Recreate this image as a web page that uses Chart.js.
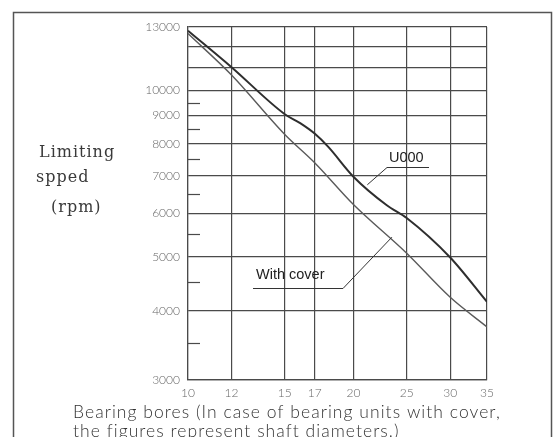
<!DOCTYPE html>
<html>
<head>
<meta charset="utf-8">
<script src="https://cdn.jsdelivr.net/npm/chart.js@4/dist/chart.umd.min.js"></script>
<style>
  html, body { margin: 0; padding: 0; background: #fff; }
  #wrap { width: 555px; height: 437px; position: relative; }
</style>
</head>
<body>
<div id="wrap"><canvas id="speedChart"></canvas></div>
<script>
/* ======================================
        DATA
========================================*/
const boreTicks = [10, 12, 15, 17, 20, 25, 30, 35];
const speedTicks = [3000, 4000, 5000, 6000, 7000, 8000, 9000, 10000, 11000, 12000, 13000];
const speedLabels = [3000, 4000, 5000, 6000, 7000, 8000, 9000, 10000, 13000];
const halfTicks = [3500, 4500, 5500, 6500, 7500, 8500, 9500];

// U000 series
const u000Bores = [10, 12, 15, 16, 17, 18, 20, 23, 25, 30, 35];
const u000Speeds = [12800, 11000, 9050, 8720, 8350, 7900, 6980, 6200, 5880, 4990, 4150];

// with cover series
const coverBores = [10, 12, 15, 17, 20, 25, 30, 35];
const coverSpeeds = [12650, 10650, 8320, 7400, 6220, 5080, 4230, 3740];

const toPoints = (xs, ys) => xs.map((x, i) => ({ x: x, y: ys[i] }));

const gridColor = '#4a4a4a';
const tickFont = { family: 'Lato, "Open Sans", sans-serif', size: 12, weight: '300' };

/* ======================================
        EXTRA DRAWING
========================================*/
const decorations = {
  id: 'decorations',
  beforeDraw(chart) {
    const ctx = chart.ctx;
    ctx.save();
    // outer box
    ctx.strokeStyle = '#555';
    ctx.lineWidth = 1.5;
    ctx.strokeRect(13.5, 12.5, 538, 500);
    ctx.restore();
  },
  afterDraw(chart) {
    const ctx = chart.ctx;
    const xs = chart.scales.x;
    const ys = chart.scales.y;
    const area = chart.chartArea;
    ctx.save();

    // short marks at the half steps
    ctx.strokeStyle = gridColor;
    ctx.lineWidth = 1.2;
    halfTicks.forEach(v => {
      const y = Math.round(ys.getPixelForValue(v)) + 0.5;
      ctx.beginPath();
      ctx.moveTo(area.left, y);
      ctx.lineTo(area.left + 12, y);
      ctx.stroke();
    });

    // y axis title
    ctx.fillStyle = '#3a3a3a';
    ctx.font = '16px "DejaVu Serif", serif';
    ctx.letterSpacing = '1px';
    ctx.textBaseline = 'middle';
    ctx.textAlign = 'left';
    ctx.fillText('Limiting', 39, 153);
    ctx.fillText('spped', 36, 178);
    ctx.fillText('(rpm)', 51, 208);
    ctx.letterSpacing = '0px';

    // x axis title
    ctx.fillStyle = '#333';
    ctx.font = '300 17.5px Lato, "Open Sans", sans-serif';
    ctx.letterSpacing = '1.05px';
    ctx.fillText('Bearing bores (In case of bearing units with cover,', 73, 412);
    ctx.fillText('the figures represent shaft diameters.)', 73, 431);
    ctx.letterSpacing = '0px';

    // series labels with leaders
    ctx.font = '14.5px "Liberation Sans", Arial, sans-serif';
    ctx.fillStyle = '#222';
    ctx.strokeStyle = '#333';
    ctx.lineWidth = 1;
    ctx.fillText('U000', 389, 158);
    const ux = xs.getPixelForValue(21.2);
    const uy = ys.getPixelForValue(6750);
    ctx.beginPath();
    ctx.moveTo(429, 167.5);
    ctx.lineTo(387, 167.5);
    ctx.lineTo(ux, uy);
    ctx.stroke();

    ctx.fillText('With cover', 256, 275);
    const cx = xs.getPixelForValue(23.5);
    const cy = ys.getPixelForValue(5430);
    ctx.beginPath();
    ctx.moveTo(253, 288.5);
    ctx.lineTo(343, 288.5);
    ctx.lineTo(352, 279);
    ctx.lineTo(cx, cy);
    ctx.stroke();

    ctx.restore();
  }
};

/* ======================================
        CHART
========================================*/
const ctx = document.getElementById('speedChart').getContext('2d');
const speedChart = new Chart(ctx, {
  type: 'scatter',
  data: {
    datasets: [{
      label: 'U000',
      data: toPoints(u000Bores, u000Speeds),
      showLine: true,
      borderColor: '#2e2e2e',
      borderWidth: 2,
      pointRadius: 0,
      cubicInterpolationMode: 'monotone'
    }, {
      label: 'With cover',
      data: toPoints(coverBores, coverSpeeds),
      showLine: true,
      borderColor: '#5a5a5a',
      borderWidth: 1.4,
      pointRadius: 0,
      cubicInterpolationMode: 'monotone'
    }]
  },
  options: {
    responsive: true,
    maintainAspectRatio: false,
    animation: false,
    events: [],
    layout: { padding: { left: 0, right: 68, top: 27, bottom: 0 } },
    plugins: {
      legend: { display: false },
      tooltip: { enabled: false }
    },
    scales: {
      x: {
        type: 'logarithmic',
        min: 10,
        max: 35,
        afterBuildTicks: scale => { scale.ticks = boreTicks.map(v => ({ value: v })); },
        afterFit: scale => { scale.height = 57; },
        grid: { color: gridColor, lineWidth: 1.2, drawTicks: false },
        border: { color: gridColor, width: 1.2 },
        ticks: {
          autoSkip: false,
          maxRotation: 0,
          padding: 6,
          color: '#666',
          font: tickFont,
          callback: v => String(v)
        }
      },
      y: {
        type: 'logarithmic',
        min: 3000,
        max: 13000,
        afterBuildTicks: scale => { scale.ticks = speedTicks.map(v => ({ value: v })); },
        afterFit: scale => { scale.width = 188; },
        grid: { color: gridColor, lineWidth: 1.2, drawTicks: false },
        border: { color: gridColor, width: 1.2 },
        ticks: {
          autoSkip: false,
          padding: 8,
          color: '#666',
          font: tickFont,
          callback: v => speedLabels.includes(v) ? String(v) : ''
        }
      }
    }
  },
  plugins: [decorations]
});
</script>
</body>
</html>
